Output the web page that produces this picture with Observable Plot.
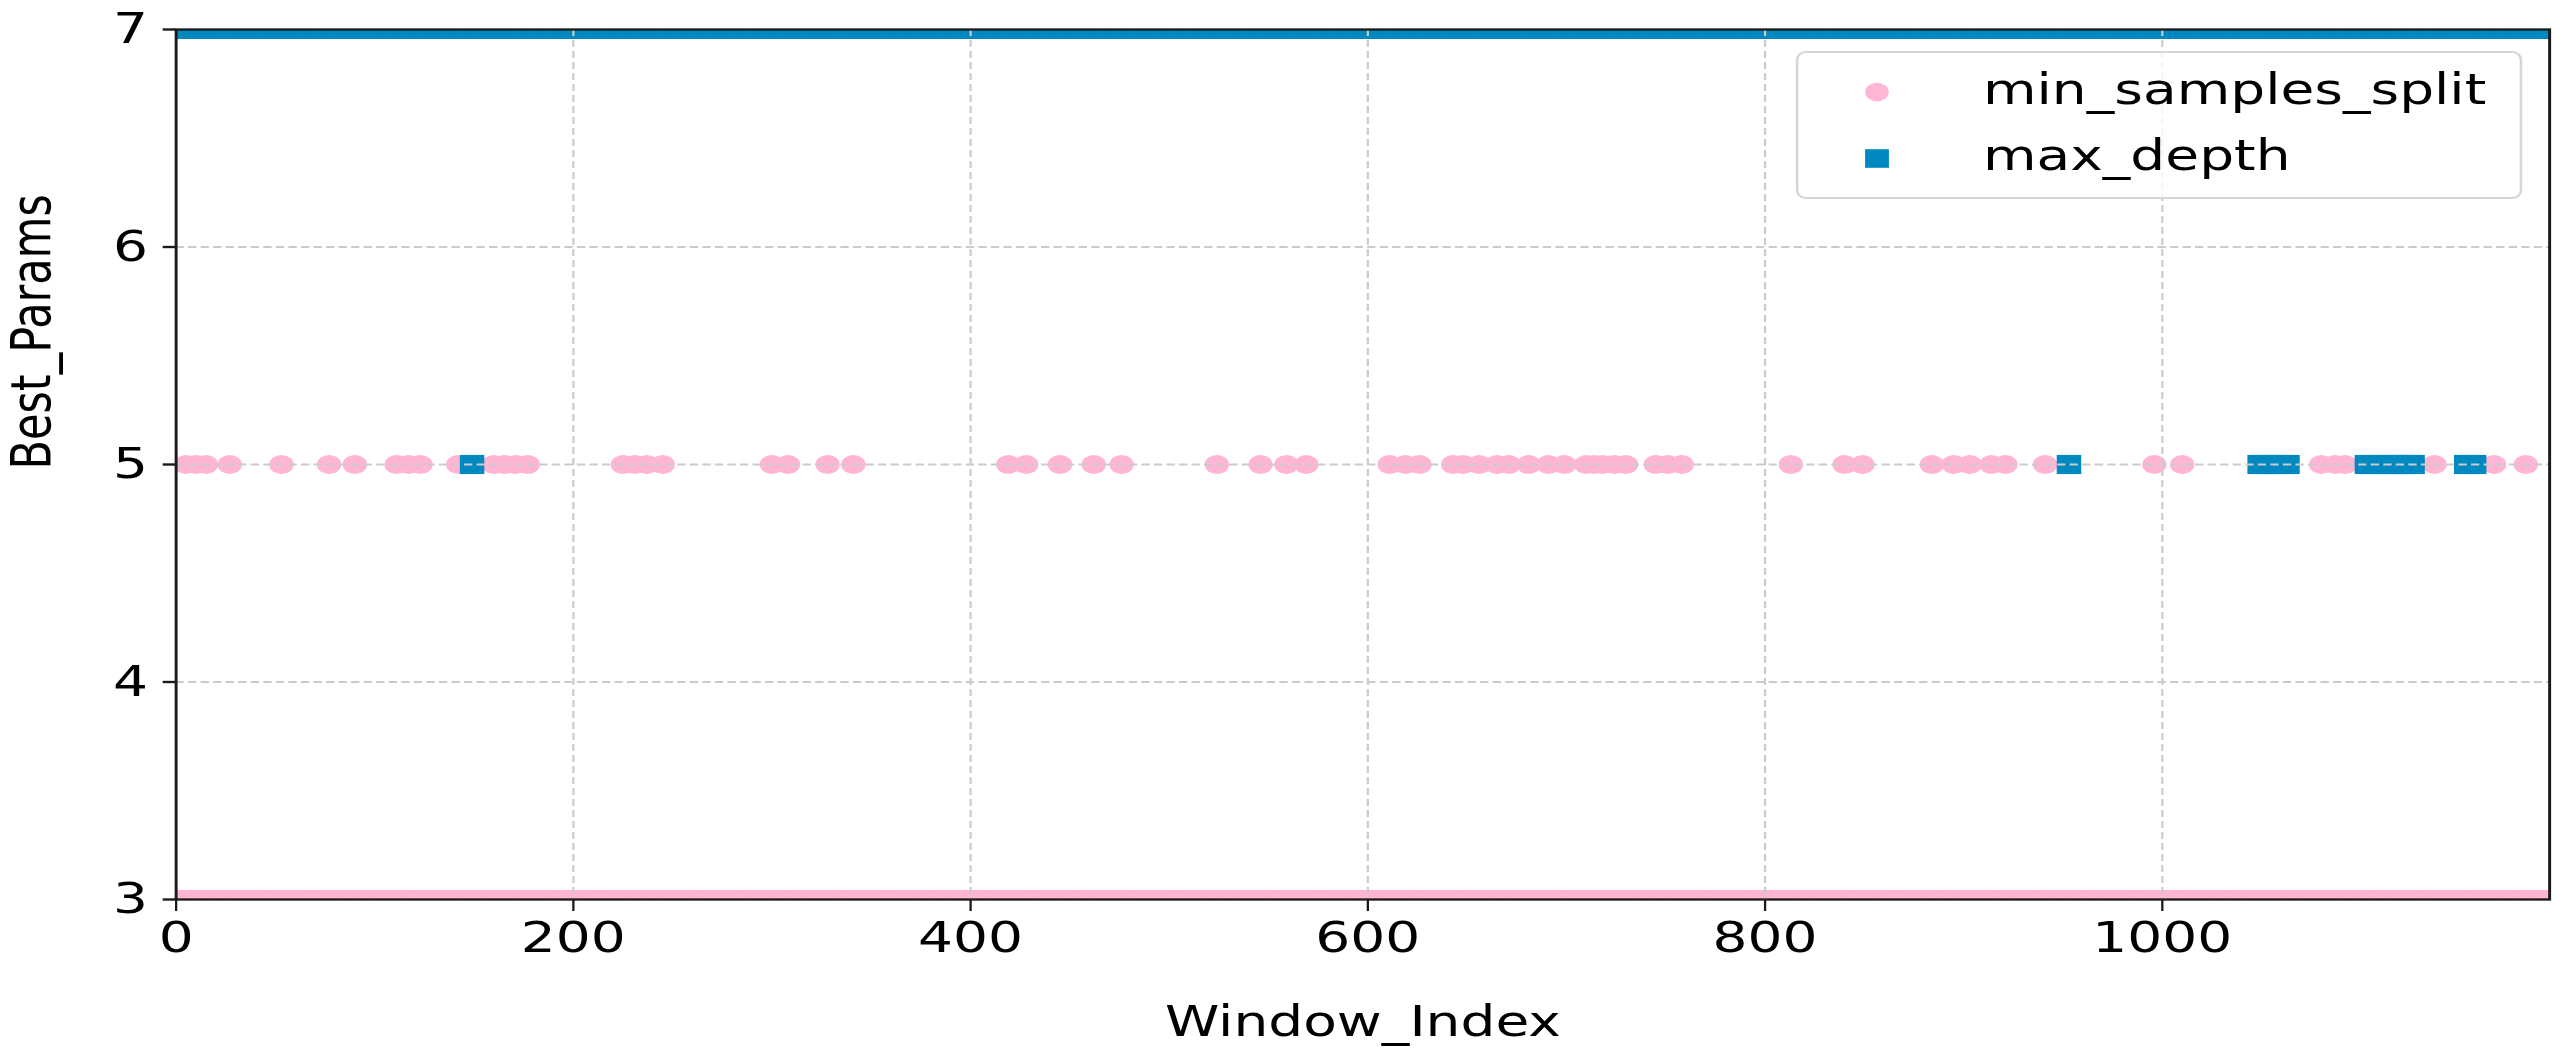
<!DOCTYPE html>
<html><head><meta charset="utf-8">
<script src="https://cdn.jsdelivr.net/npm/d3@7"></script>
<script src="https://cdn.jsdelivr.net/npm/@observablehq/plot@0.6"></script>
<style>html,body{margin:0;padding:0;background:#fff;overflow:hidden}#chart{width:2564px;height:1056px}</style>
</head><body><div id="chart"></div>
<script>
// ---- data ----
const windowCount = 1196; // Window_Index 0 .. 1195
const seriesNames = ["min_samples_split", "max_depth"];
const seriesColors = ["#ffb5d3", "#0088c0"];
const minSamplesSplitBase = 3;   // value of min_samples_split in all other windows
const minSamplesSplitAlt = 5;
const maxDepthBase = 7;          // value of max_depth in all other windows
const maxDepthAlt = 5;
const minSamplesSplitAltWindows = [5, 10, 15, 27, 53, 77, 90, 111, 117, 123, 142, 160, 165, 171, 177,
  225, 231, 237, 245, 300, 308, 328, 341, 419, 428, 445, 462, 476, 524, 546, 559, 569,
  611, 619, 626, 643, 648, 656, 665, 671, 681, 691, 699, 710, 714, 718, 724, 730, 745, 751, 758,
  813, 840, 849, 884, 895, 903, 914, 921, 941, 996, 1010, 1080, 1087, 1092, 1137, 1167, 1183];
const maxDepthAltWindows = [149, 953, 1049, 1054, 1058, 1063, 1103, 1108, 1113, 1118, 1122, 1126, 1153, 1157];
const xTicks = [0, 200, 400, 600, 800, 1000];
const yTicks = [3, 4, 5, 6, 7];
const xLabel = "Window_Index";
const yLabel = "Best_Params";

// ---- table ----
const mssSet = new Set(minSamplesSplitAltWindows);
const mdSet = new Set(maxDepthAltWindows);
const rows = d3.range(windowCount).map(i => ({
  window: i,
  min_samples_split: mssSet.has(i) ? minSamplesSplitAlt : minSamplesSplitBase,
  max_depth: mdSet.has(i) ? maxDepthAlt : maxDepthBase
}));

// ---- layout (drawn at 1/S width, then stretched horizontally like the reference) ----
const S = 1.28;
const W = 2564 / S;
const H = 1056;
const fs = 43;
const gridColor = "#cbcbcb";
const ink = "#1a1a1a";

const chart = Plot.plot({
  width: W, height: H,
  marginLeft: 137.1, marginRight: W - 1991.4, marginTop: 29, marginBottom: H - 899,
  x: {domain: [0, windowCount - 1]},
  y: {domain: [3, 7]},
  style: {fontFamily: "DejaVu Sans", fontSize: fs + "px", color: "#000", background: "#fff"},
  marks: [
    Plot.dot(rows, {x: "window", y: "min_samples_split", r: 9.5, fill: seriesColors[0], clip: true}),
    Plot.dot(rows, {x: "window", y: "max_depth", r: 10.8, symbol: "square", fill: seriesColors[1], clip: true}),
    Plot.gridX(xTicks.filter(d => d > 0), {stroke: gridColor, strokeOpacity: 1, strokeWidth: 1.7, strokeDasharray: "7,4"}),
    Plot.gridY(yTicks.filter(d => d > 3 && d < 7), {stroke: gridColor, strokeOpacity: 1, strokeWidth: 2.2, strokeDasharray: "6.5,3.3"}),
    Plot.axisX(xTicks, {tickSize: 12, tickPadding: 10, fontSize: fs, label: null, tickFormat: d => String(d), stroke: ink, strokeWidth: 1.8, fill: "#000"}),
    Plot.axisY(yTicks, {tickSize: 10, tickPadding: 12, fontSize: fs, label: null, tickFormat: d => String(d), stroke: ink, strokeWidth: 2.4, fill: "#000"}),
    Plot.frame({stroke: ink, strokeWidth: 2.3}),
    Plot.text([xLabel], {frameAnchor: "bottom", lineAnchor: "top", dy: 106, fontSize: fs, fill: "#000"}),
    Plot.text([yLabel], {frameAnchor: "left", rotate: -90, dx: -112, dy: 5, fontSize: fs, fill: "#000"})
  ]
});

// ---- legend ----
const svg = d3.select(chart);
const lg = svg.append("g").attr("font-family", "DejaVu Sans").attr("font-size", fs)
  .attr("text-anchor", "start").style("text-anchor", "start");
lg.append("rect").attr("x", 1404).attr("y", 52).attr("width", 565.5).attr("height", 146)
  .attr("rx", 6.5).attr("ry", 8).attr("fill", "#fff").attr("fill-opacity", 0.8)
  .attr("stroke", "#d6d6d6").attr("stroke-width", 2);
lg.append("circle").attr("cx", 1466.4).attr("cy", 92).attr("r", 9.2).attr("fill", seriesColors[0]);
lg.append("rect").attr("x", 1466.4 - 9.3).attr("y", 158.5 - 9.3).attr("width", 18.6).attr("height", 18.6).attr("fill", seriesColors[1]);
lg.append("text").attr("x", 1549.2).attr("y", 104).attr("fill", "#000")
  .attr("text-anchor", "start").style("text-anchor", "start").style("dominant-baseline", "alphabetic").text(seriesNames[0]);
lg.append("text").attr("x", 1549.2).attr("y", 170).attr("fill", "#000")
  .attr("text-anchor", "start").style("text-anchor", "start").style("dominant-baseline", "alphabetic").text(seriesNames[1]);

chart.setAttribute("width", 2564);
chart.setAttribute("height", H);
chart.setAttribute("viewBox", `0 0 ${W} ${H}`);
chart.setAttribute("preserveAspectRatio", "none");
chart.style.maxWidth = "none";
chart.style.width = "2564px";
chart.style.height = H + "px";
chart.style.display = "block";
document.getElementById("chart").appendChild(chart);
</script>
</body></html>
